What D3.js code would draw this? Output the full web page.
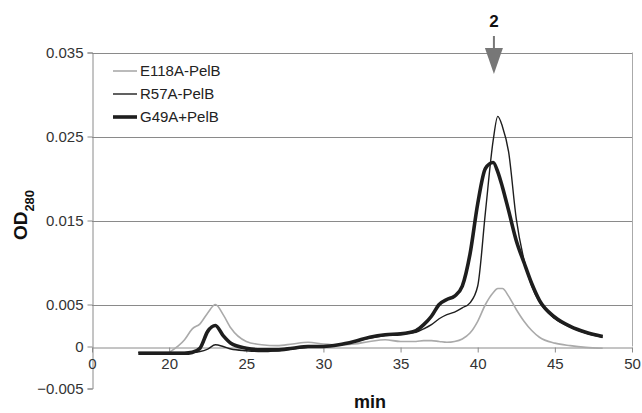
<!DOCTYPE html>
<html>
<head>
<meta charset="utf-8">
<script src="https://cdn.jsdelivr.net/npm/d3@7"></script>
<style>
  body { margin: 0; background: #fff; }
  svg { font-family: "Liberation Sans", Arial, sans-serif; }
</style>
</head>
<body>
<svg width="642" height="413"></svg>
<script>
(function () {

	// elution time (min)
	var times = [18, 19, 20, 21, 21.5, 22, 22.5, 23, 23.5, 24, 25, 26, 27, 28, 29, 30, 31, 32, 33, 34, 35, 36, 36.5, 37, 37.5, 38, 38.5, 39, 39.5, 40, 40.5, 41, 41.3, 41.6, 42, 42.5, 43, 43.5, 44, 45, 46, 47, 48.1];

	var e118a = [-0.0007, -0.0007, -0.0007, 0.0008, 0.0021, 0.0027, 0.0040, 0.0050, 0.0038, 0.0022, 0.0006, 0.0002, 0.0001, 0.0003, 0.0005, 0.0003, 0.0002, 0.0003, 0.0006, 0.0008, 0.0006, 0.0006, 0.0007, 0.0007, 0.0006, 0.0005, 0.0006, 0.0009, 0.0016, 0.0030, 0.0050, 0.0064, 0.0069, 0.0069, 0.0060, 0.0044, 0.0030, 0.0019, 0.0011, 0.0004, 0.0001, -0.0001, -0.0002];

	var r57a = [-0.0007, -0.0007, -0.0007, -0.0007, -0.0007, -0.0006, -0.0003, 0.0002, 0.0000, -0.0003, -0.0005, -0.0006, -0.0005, -0.0003, -0.0001, 0.0000, 0.0002, 0.0006, 0.0010, 0.0013, 0.0015, 0.0017, 0.0021, 0.0026, 0.0033, 0.0038, 0.0041, 0.0046, 0.0052, 0.0072, 0.0160, 0.0245, 0.0274, 0.0262, 0.0232, 0.0152, 0.0103, 0.0072, 0.0053, 0.0033, 0.0023, 0.0016, 0.0011];

	var g49a = [-0.0008, -0.0008, -0.0008, -0.0008, -0.0007, -0.0002, 0.0018, 0.0025, 0.0013, 0.0004, -0.0002, -0.0004, -0.0004, -0.0002, 0.0000, 0.0000, 0.0002, 0.0006, 0.0011, 0.0014, 0.0015, 0.0019, 0.0026, 0.0036, 0.0050, 0.0056, 0.0060, 0.0072, 0.0110, 0.0170, 0.0212, 0.0219, 0.0208, 0.0190, 0.0162, 0.0126, 0.0100, 0.0075, 0.0055, 0.0035, 0.0024, 0.0017, 0.0012];

	var seriesNames = ['E118A-PelB', 'R57A-PelB', 'G49A+PelB'];
	var yTicks = [-0.005, 0, 0.005, 0.015, 0.025, 0.035];
	var yTickLabels = ['\u22120.005', '0', '0.005', '0.015', '0.025', '0.035'];
	var xTicks = [15, 20, 25, 30, 35, 40, 45, 50];
	var xTickLabels = ['0', '20', '25', '30', '35', '40', '45', '50'];
	var peakTime = 41.05;
	var peakLabel = '2';

	var series = [
		{'name': seriesNames[0], 'values': e118a, 'color': '#aaaaaa', 'width': 1.6},
		{'name': seriesNames[1], 'values': r57a, 'color': '#1e1e1e', 'width': 1.4},
		{'name': seriesNames[2], 'values': g49a, 'color': '#1e1e1e', 'width': 3.6}
	];

	var svg = d3.select("svg");

	var x = d3.scaleLinear().domain([15, 50]).range([92, 632]);
	var y = d3.scaleLinear().domain([-0.005, 0.035]).range([388.5, 52.5]);

	// grid lines
	svg.selectAll(".grid")
		.data(yTicks.filter(function (d) { return d > 0; }))
		.enter().append("line")
		.attr("x1", x(15)).attr("x2", x(50))
		.attr("y1", function (d) { return Math.round(y(d)) + 0.5; })
		.attr("y2", function (d) { return Math.round(y(d)) + 0.5; })
		.attr("stroke", "#8a8a8a")
		.attr("stroke-width", 1);

	// right border
	svg.append("line")
		.attr("x1", x(50) + 0.5).attr("x2", x(50) + 0.5)
		.attr("y1", y(0.035)).attr("y2", y(0))
		.attr("stroke", "#aaaaaa");

	// y axis
	var yAxis = d3.axisLeft(y)
		.tickValues(yTicks)
		.tickFormat(function (d, i) { return yTickLabels[i]; })
		.tickSize(5)
		.tickPadding(4);

	var gy = svg.append("g")
		.attr("transform", "translate(" + (x(15) + 0.5) + ",0)")
		.call(yAxis);
	gy.select(".domain").attr("stroke", "#8a8a8a");
	gy.selectAll(".tick line").attr("stroke", "#8a8a8a");
	gy.selectAll(".tick text")
		.attr("fill", "#333")
		.style("font-size", "15px")
		.style("font-family", "Liberation Sans, Arial, sans-serif");

	// x axis at y = 0
	var xAxis = d3.axisBottom(x)
		.tickValues(xTicks)
		.tickFormat(function (d, i) { return xTickLabels[i]; })
		.tickSize(5)
		.tickPadding(6)
		.tickSizeOuter(0);

	var gx = svg.append("g")
		.attr("transform", "translate(0," + (Math.round(y(0)) + 0.5) + ")")
		.call(xAxis);
	gx.select(".domain").attr("stroke", "#8a8a8a");
	gx.selectAll(".tick line").attr("stroke", "#8a8a8a");
	gx.selectAll(".tick text")
		.attr("fill", "#333")
		.style("font-size", "15px")
		.style("font-family", "Liberation Sans, Arial, sans-serif");

	// traces
	var line = d3.line()
		.x(function (d, i) { return x(times[i]); })
		.y(function (d) { return y(d); })
		.curve(d3.curveMonotoneX);

	svg.selectAll(".trace")
		.data(series)
		.enter().append("path")
		.attr("fill", "none")
		.attr("stroke", function (d) { return d.color; })
		.attr("stroke-width", function (d) { return d.width; })
		.attr("stroke-linejoin", "round")
		.attr("d", function (d) {
			var pts = d.values;
			// E118A starts at 20 min
			if (d.name === seriesNames[0]) {
				return line.defined(function (v, i) { return times[i] >= 20; })(pts);
			}
			return line.defined(function () { return true; })(pts);
		});

	// legend
	var legend = svg.selectAll(".legend")
		.data(series)
		.enter().append("g")
		.attr("transform", function (d, i) {
			return "translate(113," + (71 + i * 23) + ")";
		});
	legend.append("line")
		.attr("x1", 0).attr("x2", 24)
		.attr("stroke", function (d) { return d.color; })
		.attr("stroke-width", function (d) { return d.width; });
	legend.append("text")
		.attr("x", 27)
		.attr("y", 5)
		.attr("fill", "#222")
		.style("font-size", "15px")
		.text(function (d) { return d.name; });

	// peak arrow
	var ax = x(peakTime);
	svg.append("line")
		.attr("x1", ax).attr("x2", ax)
		.attr("y1", 36).attr("y2", 52)
		.attr("stroke", "#777")
		.attr("stroke-width", 2);
	svg.append("path")
		.attr("d", "M" + (ax - 9) + ",48 L" + (ax + 9) + ",48 L" + ax + ",74 Z")
		.attr("fill", "#777");
	svg.append("text")
		.attr("x", ax)
		.attr("y", 27)
		.attr("text-anchor", "middle")
		.attr("font-weight", "bold")
		.attr("fill", "#111")
		.style("font-size", "17px")
		.text(peakLabel);

	// axis titles
	svg.append("text")
		.attr("x", 370)
		.attr("y", 408)
		.attr("text-anchor", "middle")
		.attr("font-weight", "bold")
		.attr("fill", "#111")
		.style("font-size", "18px")
		.text("min");

	var yt = svg.append("text")
		.attr("transform", "translate(27,215) rotate(-90)")
		.attr("text-anchor", "middle")
		.attr("font-weight", "bold")
		.attr("fill", "#111")
		.style("font-size", "19px");
	yt.append("tspan").text("OD");
	yt.append("tspan")
		.attr("dy", 7)
		.style("font-size", "13px")
		.text("280");

})();
</script>
</body>
</html>
